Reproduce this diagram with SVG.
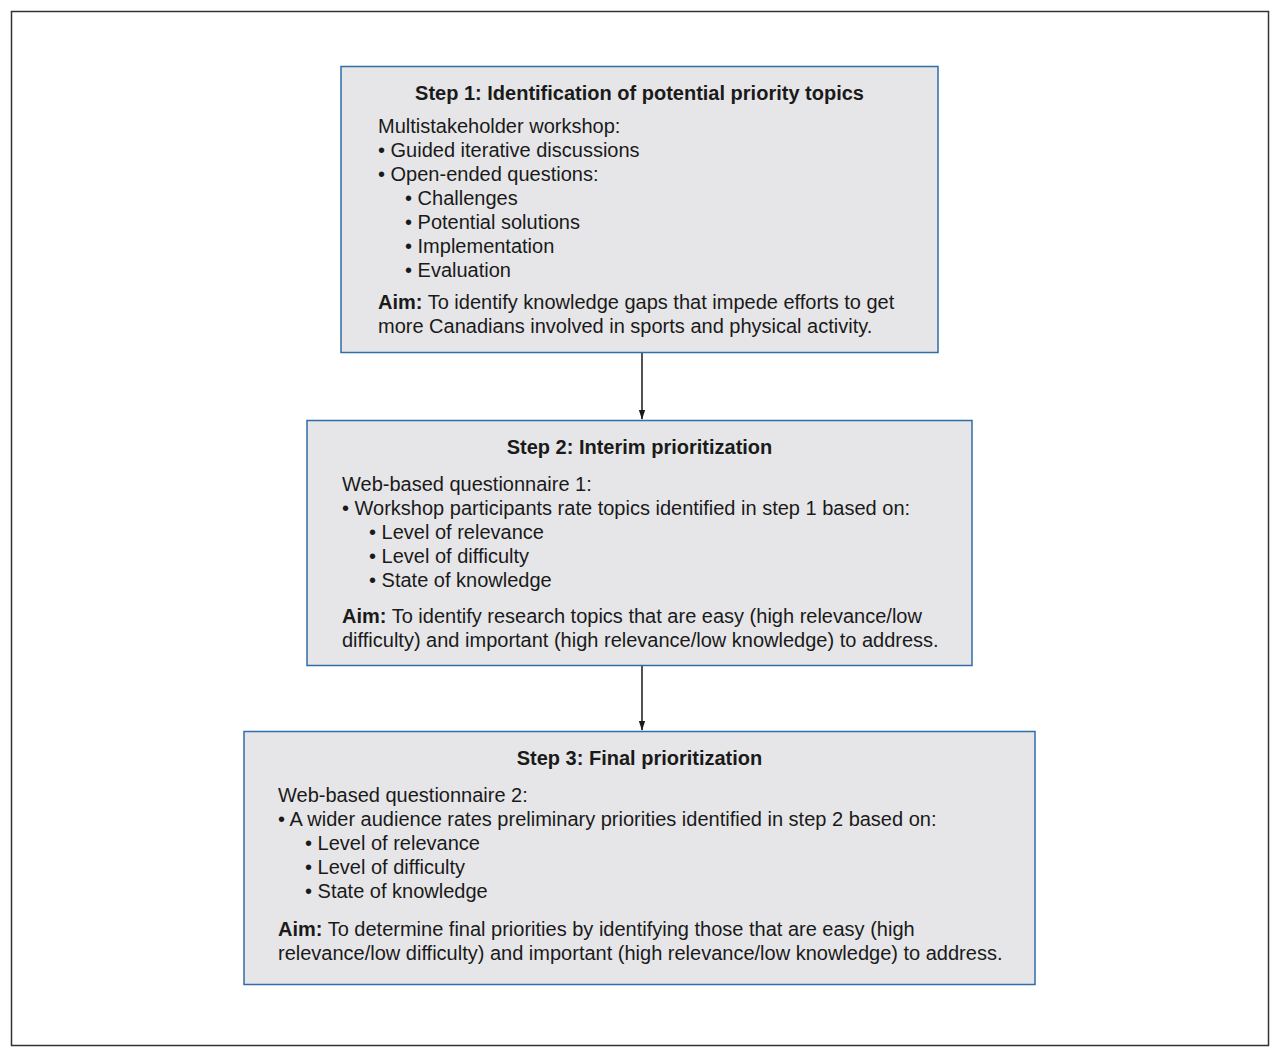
<svg xmlns="http://www.w3.org/2000/svg" width="1280" height="1057" viewBox="0 0 1280 1057">
<defs>
<style>
.box{fill:#e6e6e8;stroke:#2f6ea8;stroke-width:1.5}
text{font-family:"Liberation Sans",Arial,sans-serif;font-size:20px;fill:#1a1a1a}
.t{font-weight:bold;text-anchor:middle}
.b{font-weight:bold}
.c{stroke:#1a1a1a;stroke-width:1.5;fill:none}
</style>
<marker id="ah" markerWidth="10" markerHeight="14" refX="13" refY="5" orient="auto" markerUnits="userSpaceOnUse" viewBox="0 0 14 10">
<path d="M0,0.5 L14,5 L0,9.5 Z" fill="#1a1a1a"/>
</marker>
</defs>
<rect x="0" y="0" width="1280" height="1057" fill="#fff"/>
<rect x="11.5" y="11.5" width="1257" height="1034" fill="none" stroke="#333" stroke-width="1.5"/>
<g id="connectors">
<line class="c" x1="642" y1="353" x2="642" y2="419" marker-end="url(#ah)"/>
<line class="c" x1="642" y1="666" x2="642" y2="730" marker-end="url(#ah)"/>
</g>
<g id="step1">
<rect class="box" x="341" y="66.5" width="597" height="286"/>
<text class="t" x="639.5" y="100">Step 1: Identification of potential priority topics</text>
<text x="378" y="133">Multistakeholder workshop:</text>
<text x="378" y="157">• Guided iterative discussions</text>
<text x="378" y="181">• Open-ended questions:</text>
<text x="405" y="205">• Challenges</text>
<text x="405" y="229">• Potential solutions</text>
<text x="405" y="253">• Implementation</text>
<text x="405" y="277">• Evaluation</text>
<text x="378" y="309"><tspan class="b">Aim:</tspan> To identify knowledge gaps that impede efforts to get</text>
<text x="378" y="333">more Canadians involved in sports and physical activity.</text>
</g>
<g id="step2">
<rect class="box" x="307" y="420.5" width="665" height="245"/>
<text class="t" x="639.5" y="454">Step 2: Interim prioritization</text>
<text x="342" y="491">Web-based questionnaire 1:</text>
<text x="342" y="515">• Workshop participants rate topics identified in step 1 based on:</text>
<text x="369" y="539">• Level of relevance</text>
<text x="369" y="563">• Level of difficulty</text>
<text x="369" y="587">• State of knowledge</text>
<text x="342" y="623"><tspan class="b">Aim:</tspan> To identify research topics that are easy (high relevance/low</text>
<text x="342" y="647">difficulty) and important (high relevance/low knowledge) to address.</text>
</g>
<g id="step3">
<rect class="box" x="244" y="731.5" width="791" height="253"/>
<text class="t" x="639.5" y="765">Step 3: Final prioritization</text>
<text x="278" y="802">Web-based questionnaire 2:</text>
<text x="278" y="826">• A wider audience rates preliminary priorities identified in step 2 based on:</text>
<text x="305" y="850">• Level of relevance</text>
<text x="305" y="874">• Level of difficulty</text>
<text x="305" y="898">• State of knowledge</text>
<text x="278" y="936"><tspan class="b">Aim:</tspan> To determine final priorities by identifying those that are easy (high</text>
<text x="278" y="960">relevance/low difficulty) and important (high relevance/low knowledge) to address.</text>
</g>
</svg>
